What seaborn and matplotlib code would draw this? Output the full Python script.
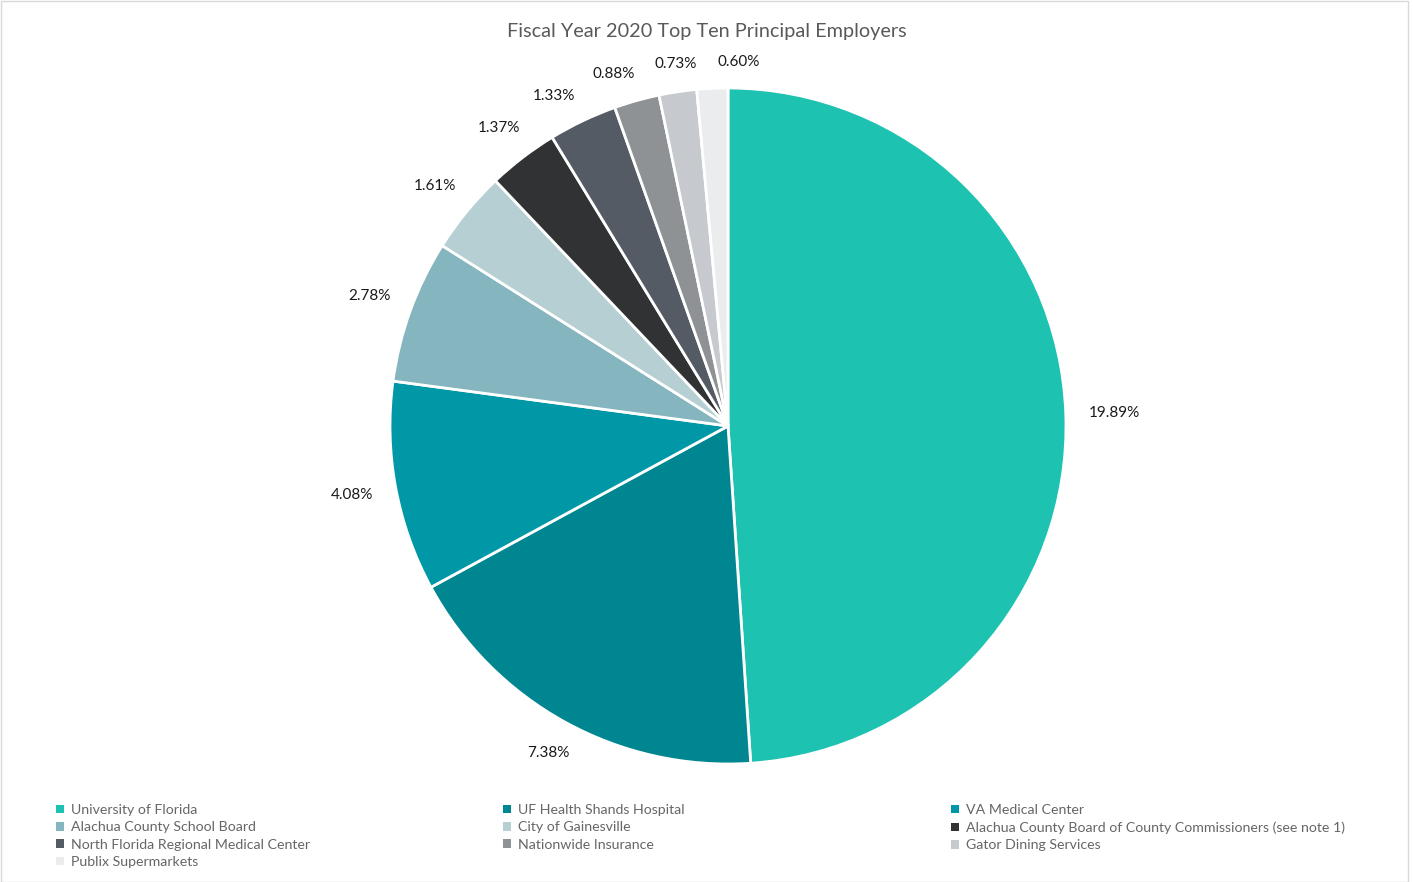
import matplotlib
matplotlib.use("Agg")
import numpy as np
import matplotlib.pyplot as plt
import seaborn as sns
from matplotlib.patches import Patch, Rectangle

employers = [
    "University of Florida",
    "UF Health Shands Hospital",
    "VA Medical Center",
    "Alachua County School Board",
    "City of Gainesville",
    "Alachua County Board of County Commissioners (see note 1)",
    "North Florida Regional Medical Center",
    "Nationwide Insurance",
    "Gator Dining Services",
    "Publix Supermarkets",
]
percents = [19.89, 7.38, 4.08, 2.78, 1.61, 1.37, 1.33, 0.88, 0.73, 0.60]
colors = ["#1DC2B0", "#008690", "#0098A6", "#85B5BE", "#B6CFD3",
          "#303234", "#555B65", "#8E9295", "#C6C9CD", "#EBECEE"]

sns.set_theme(style="white")
plt.rcParams['font.family'] = ['Lato', 'DejaVu Sans']

W, H = 1413, 882
fig = plt.figure(figsize=(W / 100, H / 100), dpi=100)
fig.patch.set_facecolor("white")

# pie axes: center (728, 426), radius 338 px
cx, cy, r = 728, 426, 338
ax = fig.add_axes([(cx - r) / W, 1 - (cy + r) / H, 2 * r / W, 2 * r / H])
palette = sns.color_palette(colors)
labels = [f"{p:.2f}%" for p in percents]
wedges, texts = ax.pie(
    percents, colors=palette, startangle=90, counterclock=False,
    labels=labels, labeldistance=1.12,
    wedgeprops=dict(edgecolor="white", linewidth=2),
    textprops=dict(fontsize=11, color="#1a1a1a"),
)
ax.set_xlim(-1, 1)
ax.set_ylim(-1, 1)
ax.set_aspect("equal")

# outside-end label placement with simple overlap avoidance
mids = np.array([(w.theta1 + w.theta2) / 2 for w in wedges]) % 360
order = np.argsort(mids)
ang = mids[order].copy()
min_sep = 9.8
for _ in range(300):
    for i in range(len(ang) - 1):
        d = ang[i + 1] - ang[i]
        if d < min_sep:
            push = (min_sep - d) / 2
            ang[i] -= push
            ang[i + 1] += push
final = np.empty_like(ang)
final[order] = ang

fig.canvas.draw()
renderer = fig.canvas.get_renderer()
gap = 23
for t, a in zip(texts, final):
    bb = t.get_window_extent(renderer)
    hw, hh = bb.width / 2, bb.height / 2
    th = np.deg2rad(a)
    dist_px = r + gap + abs(np.cos(th)) * hw + abs(np.sin(th)) * hh * 0.3
    t.set_position((np.cos(th) * dist_px / r, np.sin(th) * dist_px / r))
    t.set_ha("center")
    t.set_va("center")

fig.text(0.5, 1 - 31 / H, "Fiscal Year 2020 Top Ten Principal Employers",
         ha="center", va="center", fontsize=14.3, color="#595959")

# legend in three columns, row-major order
handles = [Patch(facecolor=c, edgecolor="none") for c in palette]
col_x = [56 / W, 503 / W, 951 / W]
for ci in range(3):
    idx = list(range(ci, len(employers), 3))
    leg = fig.legend([handles[i] for i in idx], [employers[i] for i in idx],
                     loc="upper left", bbox_to_anchor=(col_x[ci], 1 - 804 / H),
                     frameon=False, fontsize=10.2, handlelength=0.55,
                     handleheight=0.55, handletextpad=0.5, labelspacing=0.38,
                     borderpad=0, borderaxespad=0)
    for t in leg.get_texts():
        t.set_color("#666666")

fig.add_artist(Rectangle((0.5 / W, 0.5 / H), 1 - 6 / W, 1 - 1 / H,
                         transform=fig.transFigure, fill=False,
                         edgecolor="#d9d9d9", linewidth=1))

fig.savefig("out.png", dpi=100, facecolor="white")
